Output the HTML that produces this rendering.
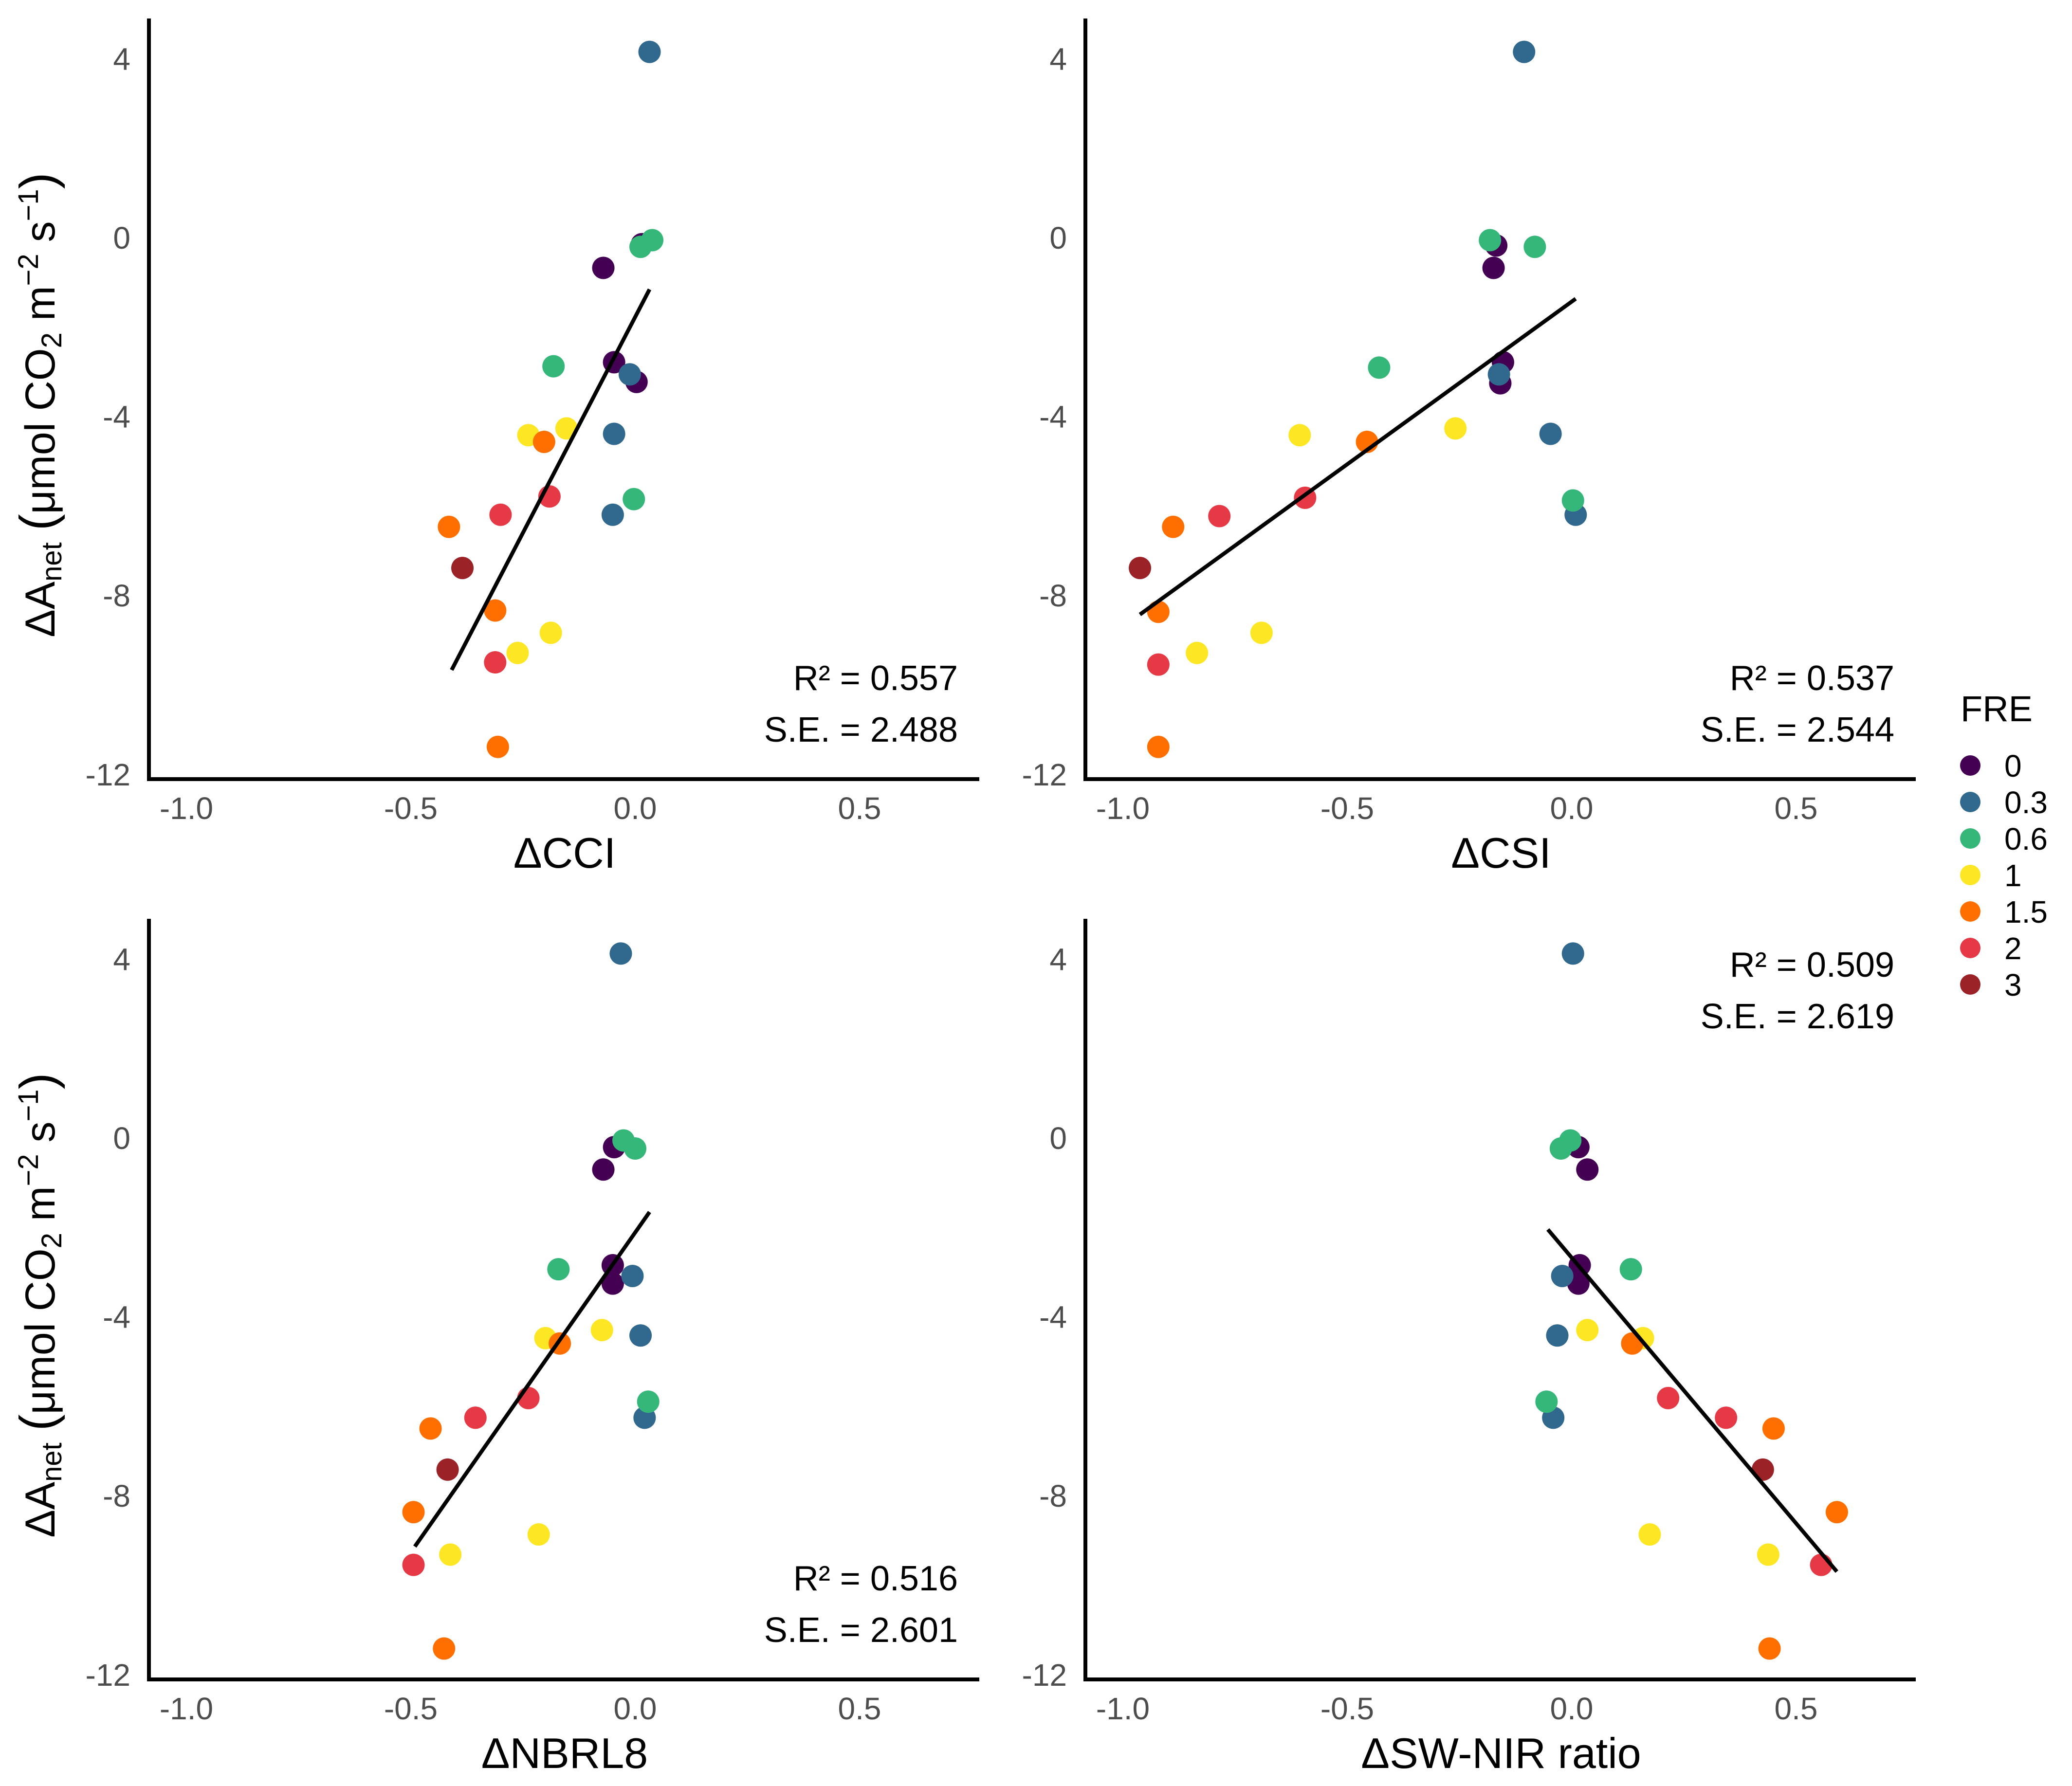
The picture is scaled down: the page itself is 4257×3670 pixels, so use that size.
<!DOCTYPE html>
<html><head><meta charset="utf-8"><style>
html,body{margin:0;padding:0;background:#fff}
svg{display:block;font-family:"Liberation Sans",Arial,sans-serif}
</style></head><body>
<svg id="chart" width="4257" height="3670" viewBox="0 0 4257 3670" xmlns="http://www.w3.org/2000/svg"></svg>
<script>
const fre = ["0","0.3","0.6","1","1.5","2","3"];
const freColors = ["#440154","#31688e","#35b779","#fde725","#ff6f00","#e63946","#9b2226"];
const yValues = [4.15,-0.06,-0.21,-0.15,-0.68,-2.79,-3.23,-3.06,-2.88,-4.39,-4.42,-4.57,-4.27,-5.85,-6.2,-6.2,-5.79,-6.47,-7.39,-8.34,-8.84,-9.29,-9.5,-11.39];
const groups  = [1,2,2,0,0,0,0,1,2,1,3,4,3,2,1,5,5,4,6,4,3,3,5,4];
const cciX  = [0.032,0.038,0.012,0.015,-0.071,-0.047,0.003,-0.012,-0.182,-0.047,-0.238,-0.203,-0.153,-0.003,-0.05,-0.3,-0.191,-0.415,-0.385,-0.312,-0.188,-0.262,-0.312,-0.306];
const csiX  = [-0.106,-0.182,-0.082,-0.168,-0.174,-0.153,-0.159,-0.162,-0.429,-0.047,-0.606,-0.456,-0.259,0.003,0.009,-0.785,-0.594,-0.888,-0.962,-0.921,-0.691,-0.835,-0.921,-0.921];
const nbrX  = [-0.032,-0.026,0,-0.047,-0.071,-0.05,-0.05,-0.006,-0.171,0.012,-0.2,-0.168,-0.074,0.029,0.021,-0.356,-0.238,-0.456,-0.418,-0.494,-0.215,-0.412,-0.494,-0.426];
const swnX  = [0.003,-0.003,-0.024,0.015,0.035,0.018,0.015,-0.021,0.132,-0.032,0.159,0.135,0.035,-0.056,-0.041,0.344,0.215,0.45,0.426,0.591,0.174,0.438,0.556,0.441];
const yP2 = [4.15,-0.06,-0.21,-0.18,-0.68,-2.79,-3.26,-3.06,-2.91,-4.39,-4.42,-4.57,-4.27,-5.88,-6.2,-6.23,-5.82,-6.47,-7.39,-8.37,-8.84,-9.29,-9.55,-11.39];
const yP3 = [4.12,-0.06,-0.24,-0.21,-0.71,-2.85,-3.26,-3.09,-2.94,-4.42,-4.48,-4.6,-4.3,-5.9,-6.26,-6.26,-5.82,-6.5,-7.42,-8.37,-8.87,-9.32,-9.55,-11.42];
const fitCCI = [[-0.409,-9.67],[0.032,-1.16]];
const fitCSI = [[-0.962,-8.43],[0.009,-1.37]];
const fitNBR = [[-0.491,-9.14],[0.032,-1.66]];
const fitSWN = [[-0.053,-2.05],[0.591,-9.7]];
const xTicks = [-1.0,-0.5,0.0,0.5];
const xTickLabels = ["-1.0","-0.5","0.0","0.5"];
const yTicks = [4,0,-4,-8,-12];
const yTickLabels = ["4","0","-4","-8","-12"];

const svg = document.getElementById('chart');
const NS = "http://www.w3.org/2000/svg";
function mk(tag, attrs, parent){const e=document.createElementNS(NS,tag);for(const k in attrs)e.setAttribute(k,attrs[k]);(parent||svg).appendChild(e);return e;}

const panels = [
 {name:"cci",xs:cciX,ys:yValues,fit:fitCCI,title:"ΔCCI",r2:"R² = 0.557",se:"S.E. = 2.488",ox:0,oy:0,annTop:false},
 {name:"csi",xs:csiX,ys:yP2,fit:fitCSI,title:"ΔCSI",r2:"R² = 0.537",se:"S.E. = 2.544",ox:1924,oy:0,annTop:false},
 {name:"nbrl8",xs:nbrX,ys:yP3,fit:fitNBR,title:"ΔNBRL8",r2:"R² = 0.516",se:"S.E. = 2.601",ox:0,oy:1850,annTop:false},
 {name:"sw-nir",xs:swnX,ys:yP3,fit:fitSWN,title:"ΔSW-NIR ratio",r2:"R² = 0.509",se:"S.E. = 2.619",ox:1924,oy:1850,annTop:true}
];

const order = groups.map((g,i)=>i).sort((a,b)=>groups[a]-groups[b]||a-b);

panels.forEach(p=>{
  const g = mk('g',{});
  
  
  const sx = v => p.ox + 1305 + v*922;
  const sy = v => p.oy + 488 - v*91.9;
  const axisX = p.ox+306, axisY = p.oy+1601;
  const ya = mk('line',{x1:axisX,y1:p.oy+38,x2:axisX,y2:axisY+4,stroke:"#000","stroke-width":8},g);
  
  
  const xa = mk('line',{x1:axisX-4,y1:axisY,x2:p.ox+2012,y2:axisY,stroke:"#000","stroke-width":8},g);
  
  
  xTicks.forEach((t,i)=>{
    const tx = mk('text',{x:sx(t),y:axisY+82,"font-size":64,fill:"#4d4d4d","text-anchor":"middle"},g);
    tx.textContent = xTickLabels[i];
    
    
  });
  yTicks.forEach((t,i)=>{
    const ty = mk('text',{x:axisX-38,y:sy(t)+23,"font-size":64,fill:"#4d4d4d","text-anchor":"end"},g);
    ty.textContent = yTickLabels[i];
    
    
  });
  const xt = mk('text',{x:p.ox+1160,y:p.oy+1783,"font-size":88,fill:"#000","text-anchor":"middle"},g);
  xt.textContent = p.title;
  
  
  order.forEach(i=>{
    const c = mk('circle',{cx:sx(p.xs[i]),cy:sy(p.ys[i]),r:23,fill:freColors[groups[i]]},g);
    
    
  });
  const fl = mk('line',{x1:sx(p.fit[0][0]),y1:sy(p.fit[0][1]),x2:sx(p.fit[1][0]),y2:sy(p.fit[1][1]),stroke:"#000","stroke-width":8},g);
  
  
  const ay1 = p.annTop ? p.oy+157 : p.oy+1418;
  const a1 = mk('text',{x:p.ox+1968,y:ay1,"font-size":72,fill:"#000","text-anchor":"end"},g);
  a1.textContent = p.r2;
  
  
  const a2 = mk('text',{x:p.ox+1968,y:ay1+106,"font-size":72,fill:"#000","text-anchor":"end"},g);
  a2.textContent = p.se;
  
  
});

[0,1850].forEach(oy=>{
  const t = mk('text',{transform:`translate(112,${oy+832}) rotate(-90)`,"font-size":86,fill:"#000","text-anchor":"middle"});
  
  
  t.innerHTML = 'ΔA<tspan font-size="58" dy="14">net</tspan><tspan dy="-14"> </tspan><tspan font-size="102">(</tspan>μmol CO<tspan font-size="58" dy="14">2</tspan><tspan dy="-14"> m</tspan><tspan font-size="58" dy="-34">−2</tspan><tspan dy="34"> s</tspan><tspan font-size="58" dy="-34">−1</tspan><tspan dy="34" font-size="102">)</tspan>';
});

const lg = mk('g',{});


const lt = mk('text',{x:4028,y:1496-14,"font-size":74,fill:"#000"},lg);
lt.textContent = "FRE";


fre.forEach((f,i)=>{
  const y = 1573 + i*75;
  const c = mk('circle',{cx:4048,cy:y,r:21,fill:freColors[i]},lg);
  
  
  const t = mk('text',{x:4118,y:y+23,"font-size":64,fill:"#000"},lg);
  t.textContent = f;
  
  
});
</script>
</body></html>
